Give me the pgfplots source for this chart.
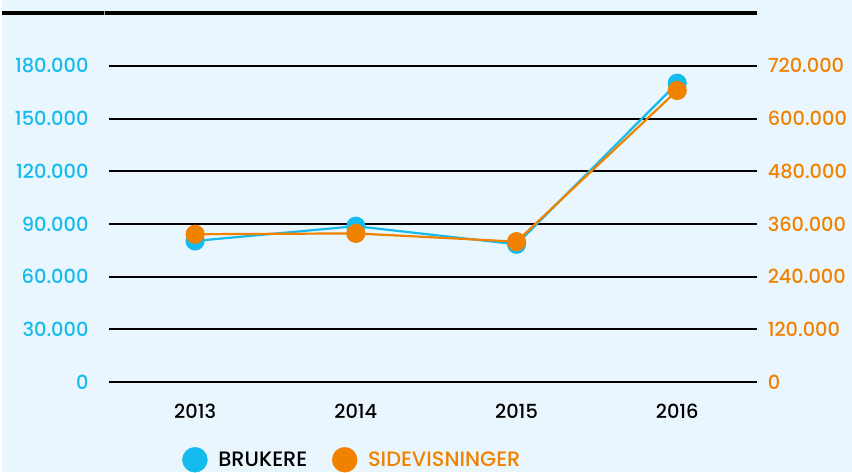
\documentclass[border=0pt]{standalone}
\usepackage{fontspec}
\setmainfont{Poppins Medium}
\usepackage{pgfplots}
\pgfplotsset{compat=1.18}
\definecolor{bg}{RGB}{234,246,254}
\definecolor{cblue}{RGB}{20,187,236}
\definecolor{corange}{RGB}{240,130,0}
\pgfplotsset{
  common/.style={
    scale only axis, width=650bp, height=317bp,
    at={(107bp,90bp)}, anchor=south west,
    xmin=-0.536, xmax=3.498, ymin=0,
    axis line style={draw=none},
    major tick length=0pt,
    clip=false,
    scaled y ticks=false,
    /pgf/number format/fixed,
    /pgf/number format/1000 sep={.},
    /pgf/number format/assume math mode=true,
  },
}
\begin{document}
\begin{tikzpicture}[x=1bp,y=1bp]
\fill[bg] (0,0) rectangle (852,473);
\draw[line width=4.5bp] (0,460) -- (757,460);
\draw[gray!70, line width=0.8bp] (102,457.8) -- (102,462.2);
\begin{axis}[common,
  ymax=180000,
  ytick={0,30000,60000,90000,120000,150000,180000},
  ymajorgrids, grid style={black, line width=2bp},
  xtick={0,1,2,3}, xticklabels={2013,2014,2015,2016},
  xticklabel style={font=\fontsize{19.5}{22}\selectfont, text=black, yshift=-19bp},
  yticklabel style={font=\fontsize{19.5}{22}\selectfont, text=cblue, xshift=-17bp},
]
\addplot[cblue, line width=2.2bp, mark=*, mark size=8.5bp, mark options={draw=none, fill=cblue}]
  coordinates {(0,80300) (1,88700) (2,78400) (3,170100)};
\end{axis}
\begin{axis}[common,
  ymax=720000,
  ytick={0,120000,240000,360000,480000,600000,720000},
  yticklabel pos=right,
  xtick=\empty,
  yticklabel style={font=\fontsize{19.5}{22}\selectfont, text=corange, xshift=7bp},
  legend style={at={(0.113,-0.246)}, anchor=west, draw=none, fill=none, inner sep=0pt,
    legend columns=2, font=\fontsize{21}{23}\selectfont,
    /tikz/every odd column/.append style={column sep=9bp},
    /tikz/every even column/.append style={column sep=23bp}},
]
\addlegendimage{only marks, mark=*, mark size=12.5bp, cblue, mark options={draw=none, fill=cblue}}
\addlegendentry{BRUKERE}
\addplot[corange, line width=2.2bp, mark=*, mark size=8.5bp, mark options={draw=none, fill=corange}, forget plot]
  coordinates {(0,336500) (1,338400) (2,319600) (3,663900)};
\addlegendimage{only marks, mark=*, mark size=12.5bp, corange, mark options={draw=none, fill=corange}}
\addlegendentry{\textcolor{corange}{SIDEVISNINGER}}
\end{axis}
\end{tikzpicture}
\end{document}
